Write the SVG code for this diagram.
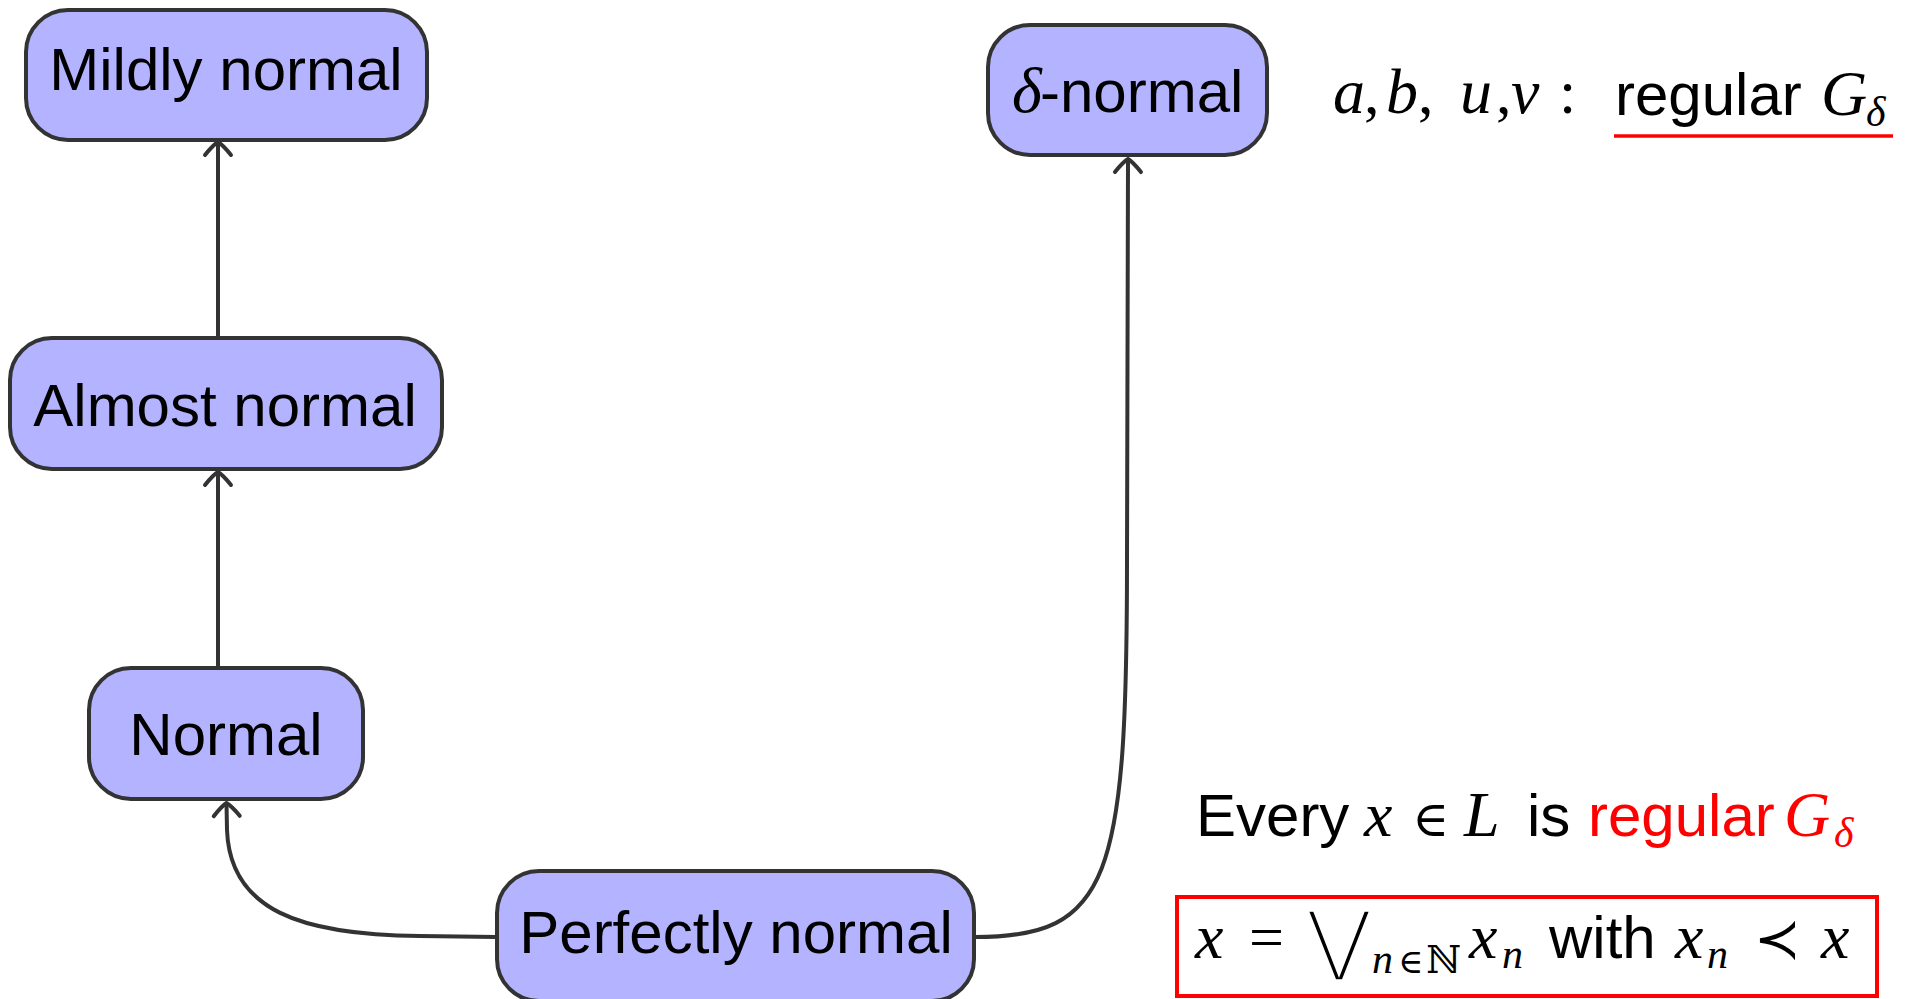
<svg xmlns="http://www.w3.org/2000/svg" width="1913" height="999" viewBox="0 0 1913 999">
<style>
.box{fill:#b3b3ff;stroke:#333333;stroke-width:4}
.lbl{font-family:"Liberation Sans",Arial,sans-serif;font-size:60px;fill:#000}
.sans{font-family:"Liberation Sans",Arial,sans-serif;font-size:60px}
.mi{font-family:"Liberation Serif","DejaVu Serif",serif;font-style:italic;font-size:64px}
.mr{font-family:"Liberation Serif","DejaVu Serif",serif;font-size:62px}
.sym{font-family:"DejaVu Serif","Liberation Serif",serif}
.edge{fill:none;stroke:#333333;stroke-width:4}
.red{fill:#ff0000}
</style>
<defs>
<marker id="arr" markerUnits="userSpaceOnUse" markerWidth="30" markerHeight="30" viewBox="-16 -15 20 30" refX="0" refY="0" orient="auto" overflow="visible">
<path d="M -13,-13 Q -3,-5 0,0 Q -3,5 -13,13" fill="none" stroke="#333333" stroke-width="4" stroke-linecap="round" stroke-linejoin="round"/>
</marker>
</defs>
<rect width="1913" height="999" fill="#ffffff"/>
<g id="connectors">
<path class="edge" d="M 218,668 L 218,472" marker-end="url(#arr)"/>
<path class="edge" d="M 218,338 L 218,142" marker-end="url(#arr)"/>
<path class="edge" d="M 497,937 L 420,936 C 300,935 230,910 227,830 L 226.5,803" marker-end="url(#arr)"/>
<path class="edge" d="M 975,937 C 1110,937 1127,880 1127,560 L 1128,159" marker-end="url(#arr)"/>
</g>
<g id="mildly">
<rect class="box" x="26" y="10" width="401" height="130" rx="42"/>
<text class="lbl" x="226" y="90" text-anchor="middle">Mildly normal</text>
</g>
<g id="almost">
<rect class="box" x="10" y="338" width="432" height="131" rx="42"/>
<text class="lbl" x="225" y="426" text-anchor="middle">Almost normal</text>
</g>
<g id="normal">
<rect class="box" x="89" y="668" width="274" height="131" rx="42"/>
<text class="lbl" x="226" y="755" text-anchor="middle">Normal</text>
</g>
<g id="perfectly">
<rect class="box" x="497" y="871" width="477" height="130" rx="42"/>
<text class="lbl" x="736" y="953" text-anchor="middle">Perfectly normal</text>
</g>
<g id="delta">
<rect class="box" x="988" y="25" width="279" height="130" rx="42"/>
<text x="1012" y="112"><tspan class="mi">δ</tspan><tspan class="sans" x="1040">-normal</tspan></text>
</g>
<g id="note-top">
<text y="113"><tspan class="mi" x="1333">a</tspan><tspan class="mr" x="1364">,</tspan><tspan class="mi" x="1386">b</tspan><tspan class="mr" x="1418">,</tspan><tspan class="mi" x="1460">u</tspan><tspan class="mr" x="1496">,</tspan><tspan class="mi" x="1511">v</tspan><tspan class="mr" x="1559">:</tspan></text>
<text class="sans" x="1615" y="115">regular</text>
<text class="mi" x="1821" y="115">G</text>
<text class="mi" x="1866" y="126" style="font-size:42px">δ</text>
<line x1="1614" y1="136" x2="1893" y2="136" stroke="#ff0000" stroke-width="3.5"/>
</g>
<g id="note-bottom">
<text y="836"><tspan class="sans" x="1196">Every</tspan><tspan class="mi" x="1364">x</tspan><tspan class="sym" x="1412" style="font-size:50px">∈</tspan><tspan class="mi" x="1464">L</tspan><tspan class="sans" x="1527">is</tspan></text>
<text class="sans red" x="1588" y="836">regular</text>
<text class="mi red" x="1784" y="836">G</text>
<text class="mi red" x="1834" y="847" style="font-size:42px">δ</text>
<rect x="1177" y="897" width="700" height="99" fill="none" stroke="#ff0000" stroke-width="4"/>
<text y="958"><tspan class="mi" x="1195">x</tspan><tspan class="mr" x="1249">=</tspan></text>
<text class="sym" x="1307" y="966" style="font-size:78px;stroke:#ffffff;stroke-width:3.5;paint-order:normal">⋁</text>
<text y="973"><tspan class="mi" x="1372" style="font-size:42px">n</tspan><tspan class="sym" x="1398" style="font-size:34px">∈</tspan><tspan class="sym" x="1426" style="font-size:38px">ℕ</tspan></text>
<text class="mi" x="1469" y="958">x</text>
<text class="mi" x="1502" y="968" style="font-size:42px">n</text>
<text class="sans" x="1549" y="958">with</text>
<text class="mi" x="1675" y="958">x</text>
<text class="mi" x="1707" y="968" style="font-size:42px">n</text>
<text class="sym" x="1754" y="958" style="font-size:56px">≺</text>
<text class="mi" x="1821" y="958">x</text>
</g>
</svg>
